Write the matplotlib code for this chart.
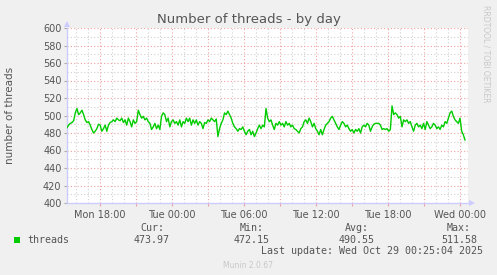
import numpy as np
import matplotlib
matplotlib.use("Agg")
import matplotlib.pyplot as plt

# ---- data ----
title = "Number of threads - by day"
ylabel = "number of threads"
series_name = "threads"
# hours counted from Mon 00:00
tick_hours = [18, 24, 30, 36, 42, 48]
tick_labels = ["Mon 18:00", "Tue 00:00", "Tue 06:00", "Tue 12:00", "Tue 18:00", "Wed 00:00"]
t_start, t_end = 15.25, 48.42          # first / last sample time (h)
x_min, x_max = 15.25, 48.67            # visible time range (h)
y_min, y_max = 400, 600
threads = [
    486, 489, 491, 492, 494, 503, 508, 501, 503, 506, 501, 495, 492, 493, 489, 484,
    480, 482, 485, 490, 489, 482, 485, 489, 482, 489, 492, 493, 495, 493, 497, 495,
    494, 497, 492, 495, 489, 497, 493, 487, 495, 491, 493, 506, 501, 497, 499, 495,
    497, 493, 491, 484, 487, 491, 485, 489, 484,
    499, 503, 501, 493, 497, 487, 493, 495, 491, 493, 489, 495, 487, 493, 491, 497,
    493, 497, 489, 495, 491, 495, 489, 493, 491, 485, 492, 491, 495, 493, 497, 495,
    493, 496, 476, 485, 491, 495, 503, 501, 505, 501, 497, 491, 487, 485, 482, 485,
    484, 487, 482, 478, 482, 484, 478, 482, 476, 480, 485, 489, 485, 489, 487,
    508, 497, 493, 495, 489, 484, 491, 489, 493, 489, 491, 487, 493, 489, 491, 487,
    489, 485, 484, 482, 480, 485, 487, 493, 495, 491, 497, 493, 487, 491, 485, 482,
    478, 484, 478, 484, 489, 491, 493, 497, 499, 495, 491, 487, 484, 489, 493, 491,
    487, 489, 485, 482, 484, 480, 484, 482, 485, 480, 487, 489,
    487, 491, 489, 482, 487, 490, 491, 491, 491, 489, 484, 485, 484, 485, 482, 484,
    511, 501, 503, 501, 497, 499, 487, 495, 493, 495, 491, 493, 487, 482, 489, 491,
    487, 489, 485, 491, 484, 493, 489, 485, 487, 491, 489, 485, 487, 484, 489, 487,
    493, 491, 497, 503, 505, 499, 495, 493, 491, 497, 482, 478, 472,
]
cur, vmin, avg, vmax = "473.97", "472.15", "490.55", "511.58"
last_update = "Last update: Wed Oct 29 00:25:04 2025"
credit = "Munin 2.0.67"
side_text = "RRDTOOL / TOBI OETIKER"

# ---- figure ----
W, H = 497, 275
fig = plt.figure(figsize=(W / 100, H / 100), dpi=100, facecolor="#f0f0f0")
L, R, T, B = 67, 468, 28, 203
ax = fig.add_axes([L / W, 1 - B / H, (R - L) / W, (B - T) / H])
ax.set_facecolor("white")

t = np.linspace(t_start, t_end, len(threads))

# grid
for h in np.arange(np.ceil(x_min), x_max, 1.0):
    major = (h % 3) == 0
    ax.axvline(h, color="#f0a0a0" if major else "#d0d0d0", lw=0.8,
               ls=(0, (1, 2)), zorder=1)
for v in range(y_min + 10, y_max + 1, 10):
    major = (v % 20) == 0
    ax.axhline(v, color="#f0a0a0" if major else "#d0d0d0", lw=0.8,
               ls=(0, (1, 2)), zorder=1)

ax.plot(t, threads, color="#00cc00", lw=1.0, zorder=3)

ax.set_xlim(x_min, x_max)
ax.set_ylim(y_min, y_max)
for s in ax.spines.values():
    s.set_visible(False)
ax.spines["left"].set_visible(True)
ax.spines["bottom"].set_visible(True)
ax.spines["left"].set_color("#ccccff")
ax.spines["bottom"].set_color("#ccccff")
ax.spines["left"].set_linewidth(1.0)
ax.spines["bottom"].set_linewidth(1.0)

ax.set_yticks(range(y_min, y_max + 1, 20))
ax.tick_params(axis="y", labelsize=7, colors="#555555", length=2, width=0.8, pad=2)
ax.tick_params(axis="y", color="#aaaaaa")
ax.set_xticks(tick_hours)
ax.set_xticklabels(tick_labels)
ax.tick_params(axis="x", labelsize=7, labelcolor="#555555", length=2, width=0.8,
               color="#f0a0a0", pad=3)
ax.set_xticks(np.arange(18, x_max, 3), minor=True)
ax.tick_params(axis="x", which="minor", length=2, width=0.8, color="#f0a0a0")

# arrows
fig.patches.append(matplotlib.patches.Polygon(
    [[(L - 3) / W, 1 - (T - 1) / H], [(L + 3) / W, 1 - (T - 1) / H], [L / W, 1 - (T - 7) / H]],
    closed=True, transform=fig.transFigure, facecolor="#ccccff", edgecolor="none"))
fig.patches.append(matplotlib.patches.Polygon(
    [[(R + 1) / W, 1 - (B - 3) / H], [(R + 1) / W, 1 - (B + 3) / H], [(R + 7) / W, 1 - B / H]],
    closed=True, transform=fig.transFigure, facecolor="#ccccff", edgecolor="none"))

# texts
fig.text(248.5 / W, 1 - 19 / H, title, ha="center", va="center", fontsize=9.5, color="#555555")
fig.text(10 / W, 1 - 115 / H, ylabel, ha="center", va="center", rotation=90,
         fontsize=7.5, color="#555555")
fig.text(486 / W, 1 - 5 / H, side_text, ha="center", va="top", rotation=270,
         fontsize=5.5, color="#c8c8c8")

mono = "DejaVu Sans Mono"
fs = 7.2
col = "#555555"
fig.patches.append(matplotlib.patches.Rectangle(
    (14 / W, 1 - 242.5 / H), 5.5 / W, 5.5 / H, transform=fig.transFigure,
    facecolor="#00cc00", edgecolor="none"))
fig.text(27 / W, 1 - 240 / H, series_name, ha="left", va="center", family=mono, fontsize=fs, color=col)
heads = ["Cur:", "Min:", "Avg:", "Max:"]
vals = [cur, vmin, avg, vmax]
rights = [170, 270, 375, 477]
for hd, vv, r in zip(heads, vals, rights):
    fig.text((r - 6) / W, 1 - 228 / H, hd, ha="right", va="center", family=mono, fontsize=fs, color=col)
    fig.text(r / W, 1 - 240 / H, vv, ha="right", va="center", family=mono, fontsize=fs, color=col)
fig.text(483 / W, 1 - 251 / H, last_update, ha="right", va="center", family=mono, fontsize=fs, color=col)
fig.text(248 / W, 1 - 265 / H, credit, ha="center", va="center", fontsize=5.5, color="#c8c8c8")

fig.savefig("out.png", dpi=100, facecolor=fig.get_facecolor())
